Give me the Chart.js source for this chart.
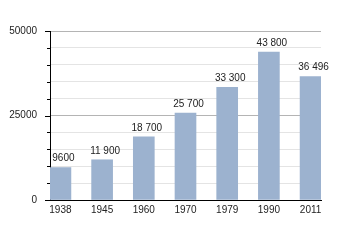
<!DOCTYPE html>
<html>
<head>
<meta charset="utf-8">
<script src="https://cdn.jsdelivr.net/npm/chart.js@4/dist/chart.umd.min.js"></script>
<style>
html,body{margin:0;padding:0;background:#fff;}
#wrap{width:350px;height:250px;}
</style>
</head>
<body>
<div id="wrap"><canvas id="c" width="350" height="250"></canvas></div>
<script>
const categories = ['1938', '1945', '1960', '1970', '1979', '1990', '2011'];
const population = [9600, 11900, 18700, 25700, 33300, 43800, 36496];
const yTickLabels = [0, 25000, 50000];

function fmt(v) {
  const s = String(v);
  if (s.length <= 4) return s;
  return s.replace(/\B(?=(\d{3})+(?!\d))/g, ' ');
}

const valueLabels = {
  id: 'valueLabels',
  afterDatasetsDraw(chart) {
    const ctx = chart.ctx;
    const meta = chart.getDatasetMeta(0);
    ctx.save();
    ctx.font = '10px "Liberation Sans", Arial, sans-serif';
    ctx.fillStyle = '#222';
    ctx.textAlign = 'center';
    ctx.textBaseline = 'bottom';
    meta.data.forEach((el, i) => {
      ctx.fillText(fmt(population[i]), el.x + 3, el.y - 4);
    });
    ctx.restore();
  }
};

const yTicksMarks = {
  id: 'yTicksMarks',
  afterDraw(chart) {
    const s = chart.scales.y;
    const ctx = chart.ctx;
    ctx.save();
    ctx.strokeStyle = '#000';
    ctx.lineWidth = 1;
    s.ticks.forEach(t => {
      const y = Math.round(s.getPixelForValue(t.value)) + 0.5;
      const len = yTickLabels.includes(t.value) ? 5 : 3;
      ctx.beginPath();
      ctx.moveTo(s.right - len, y);
      ctx.lineTo(s.right, y);
      ctx.stroke();
    });
    ctx.restore();
  }
};

new Chart(document.getElementById('c'), {
  type: 'bar',
  data: {
    datasets: [{
      data: population.map((v, i) => ({ x: i, y: v })),
      backgroundColor: '#9cb2cf',
      borderWidth: 0,
      barThickness: 21
    }]
  },
  options: {
    responsive: false,
    animation: false,
    layout: { padding: { left: 0, right: 29, top: 31, bottom: 0 } },
    plugins: { legend: { display: false }, tooltip: { enabled: false } },
    scales: {
      x: {
        type: 'linear',
        offset: false,
        min: -0.25,
        max: 6.25,
        afterBuildTicks(scale) { scale.ticks = categories.map((_, i) => ({ value: i })); },
        afterFit(scale) { scale.height = 50; },
        grid: { display: false, drawTicks: false },
        border: { display: true, color: '#000', width: 1 },
        ticks: {
          autoSkip: false,
          maxRotation: 0,
          padding: 4,
          color: '#222',
          font: { family: '"Liberation Sans", Arial, sans-serif', size: 10 },
          callback: v => categories[v]
        }
      },
      y: {
        min: 0,
        max: 50000,
        afterFit(scale) { scale.width = 50; },
        grid: {
          drawTicks: false,
          color: ctx => (ctx.tick && yTickLabels.includes(ctx.tick.value)) ? '#b4b4b4' : '#e4e4e4',
          lineWidth: 1
        },
        border: { display: true, color: '#000', width: 1 },
        ticks: {
          stepSize: 5000,
          padding: 13,
          color: '#222',
          font: { family: '"Liberation Sans", Arial, sans-serif', size: 10 },
          callback: v => yTickLabels.includes(v) ? String(v) : ''
        }
      }
    }
  },
  plugins: [valueLabels, yTicksMarks]
});
</script>
</body>
</html>
